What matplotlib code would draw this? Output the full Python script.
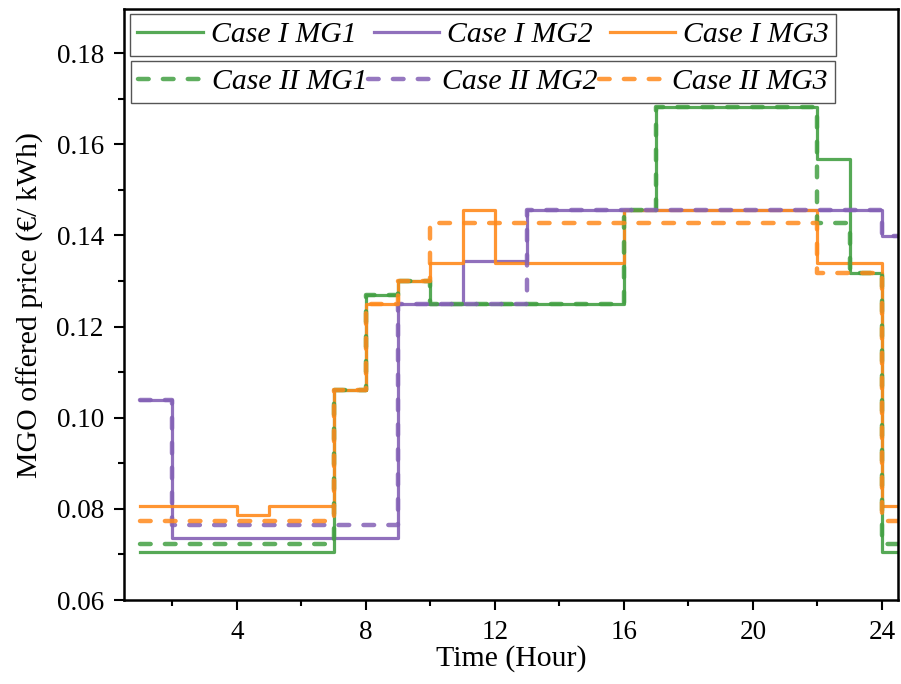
import matplotlib
matplotlib.use('Agg')
import matplotlib.pyplot as plt
from matplotlib.ticker import MultipleLocator, FormatStrFormatter
import numpy as np

plt.rcParams['font.family'] = ['Liberation Serif', 'DejaVu Serif']

# hourly offered price, hours 1..24 (last value repeated so the final step is drawn)
hours = np.arange(1, 26)

case1_mg1 = [0.0705, 0.0705, 0.0705, 0.0705, 0.0705, 0.0705, 0.106, 0.127, 0.130, 0.125,
             0.125, 0.125, 0.125, 0.125, 0.125, 0.1457, 0.1683, 0.1683, 0.1683, 0.1683,
             0.1683, 0.1567, 0.1317, 0.0705]
case1_mg2 = [0.104, 0.0737, 0.0737, 0.0737, 0.0737, 0.0737, 0.0737, 0.0737, 0.125, 0.125,
             0.1343, 0.1343, 0.1457, 0.1457, 0.1457, 0.1457, 0.1457, 0.1457, 0.1457, 0.1457,
             0.1457, 0.1457, 0.1457, 0.1398]
case1_mg3 = [0.0807, 0.0807, 0.0807, 0.0787, 0.0807, 0.0807, 0.106, 0.125, 0.130, 0.1339,
             0.1457, 0.1339, 0.1339, 0.1339, 0.1339, 0.1457, 0.1457, 0.1457, 0.1457, 0.1457,
             0.1457, 0.1339, 0.1339, 0.0807]
case2_mg1 = [0.0724, 0.0724, 0.0724, 0.0724, 0.0724, 0.0724, 0.106, 0.127, 0.130, 0.125,
             0.125, 0.125, 0.125, 0.125, 0.125, 0.1457, 0.1683, 0.1683, 0.1683, 0.1683,
             0.1683, 0.1428, 0.1317, 0.0724]
case2_mg2 = [0.104, 0.0764, 0.0764, 0.0764, 0.0764, 0.0764, 0.0764, 0.0764, 0.125, 0.125,
             0.125, 0.125, 0.1457, 0.1457, 0.1457, 0.1457, 0.1457, 0.1457, 0.1457, 0.1457,
             0.1457, 0.1457, 0.1457, 0.1398]
case2_mg3 = [0.0774, 0.0774, 0.0774, 0.0774, 0.0774, 0.0774, 0.106, 0.125, 0.130, 0.1428,
             0.1428, 0.1428, 0.1428, 0.1428, 0.1428, 0.1428, 0.1428, 0.1428, 0.1428, 0.1428,
             0.1428, 0.1317, 0.1317, 0.0774]

names = ['MG1', 'MG2', 'MG3']
colors = ['#43a043', '#8461b5', '#ff8a1c']

fig = plt.figure(figsize=(9.01, 6.84), dpi=100)
ax = fig.add_axes([0.1376, 0.1228, 0.8591, 0.864])

solid, dashed = [], []
for name, c, y in zip(names, colors, [case1_mg1, case1_mg2, case1_mg3]):
    l, = ax.plot(hours, y + [y[-1]], drawstyle='steps-post', color=c, lw=2.3,
                 alpha=0.9, label='Case I ' + name)
    solid.append(l)
for name, c, y in zip(names, colors, [case2_mg1, case2_mg2, case2_mg3]):
    l, = ax.plot(hours, y + [y[-1]], drawstyle='steps-post', color=c, lw=3.2,
                 ls=(0, (2.4, 3.2)), dash_capstyle='round', alpha=0.85,
                 label='Case II ' + name)
    dashed.append(l)

ax.set_xlim(0.5, 24.5)
ax.set_ylim(0.06, 0.1897)
ax.set_xticks([4, 8, 12, 16, 20, 24])
ax.xaxis.set_minor_locator(MultipleLocator(2))
ax.yaxis.set_major_locator(MultipleLocator(0.02))
ax.yaxis.set_minor_locator(MultipleLocator(0.01))
ax.yaxis.set_major_formatter(FormatStrFormatter('%.2f'))
ax.tick_params(which='major', length=7.5, width=1.5, labelsize=19.5, pad=7, direction='out')
ax.tick_params(which='minor', length=4, width=1.5, direction='out')
ax.tick_params(top=False, right=False)
for s in ax.spines.values():
    s.set_linewidth(1.8)

ax.set_xlabel('Time (Hour)', fontsize=21.5, labelpad=0)
ax.set_ylabel('MGO offered price (€/ kWh)', fontsize=21.5, labelpad=9)

leg_font = {'family': 'Liberation Serif', 'style': 'italic', 'size': 21.4}
leg_kw = dict(loc='upper left', ncol=3, fancybox=False, framealpha=1, edgecolor='#555555',
              borderaxespad=0, handlelength=2.2, handletextpad=0.27, borderpad=0.25,
              prop=leg_font)
leg1 = ax.legend(handles=solid, bbox_to_anchor=(0.0078, 0.9915), columnspacing=0.58, **leg_kw)
leg1.get_frame().set_linewidth(1.0)
ax.add_artist(leg1)
leg2 = ax.legend(handles=dashed, bbox_to_anchor=(0.009, 0.912), columnspacing=0.04, **leg_kw)
leg2.get_frame().set_linewidth(1.0)

fig.savefig('out.png', dpi=100)
